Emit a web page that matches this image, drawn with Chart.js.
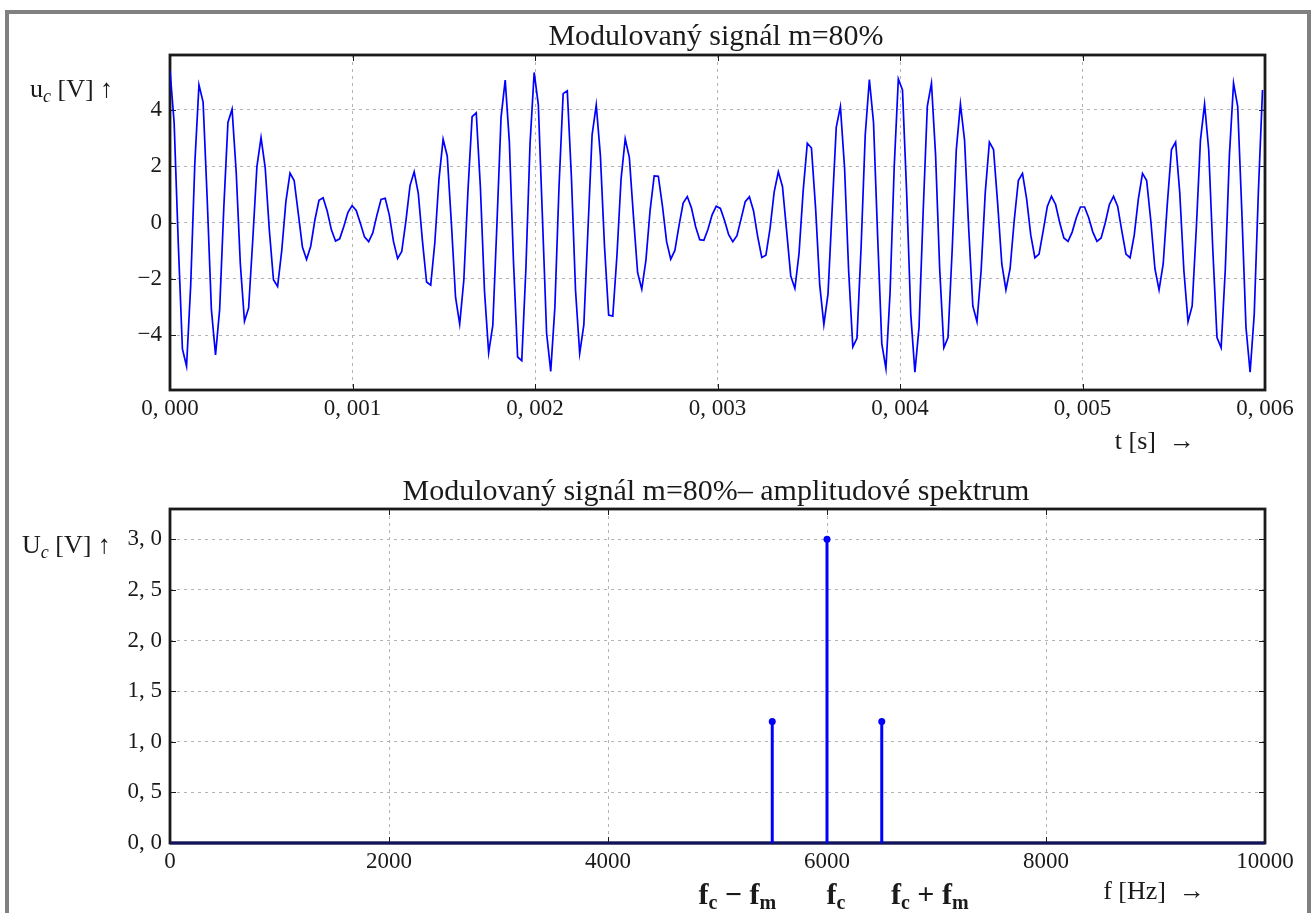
<!DOCTYPE html>
<html>
<head>
<meta charset="utf-8">
<title>Modulovaný signál m=80%</title>
<script src="https://cdn.jsdelivr.net/npm/chart.js@4.4.1/dist/chart.umd.min.js"></script>
<style>
  html, body { margin: 0; padding: 0; background: #fff; }
  body { width: 1313px; height: 913px; position: relative; overflow: hidden; }
  .frame { position: absolute; left: 5px; top: 10px; width: 1298px; height: 960px; border: 4px solid #808080; }
  canvas { position: absolute; left: 0; }
  #signalChart { top: 0; }
  #spectrumChart { top: 460px; }
</style>
</head>
<body>
<div class="frame"></div>
<canvas id="signalChart" width="1313" height="460"></canvas>
<canvas id="spectrumChart" width="1313" height="453"></canvas>
<script>
// AM signal u_c(t), one sample every 1/44100 s
const SAMPLE_RATE = 44100;
const signal = [
  5.40, 3.54, -0.74, -4.48, -5.10, -2.23, 2.10, 4.88, 4.27, 0.79,
  -3.08, -4.70, -3.08, 0.52, 3.55, 4.02, 1.78, -1.48, -3.50, -3.03,
  -0.61, 1.98, 3.01, 1.95, -0.26, -2.03, -2.27, -1.00, 0.74, 1.75,
  1.49, 0.32, -0.87, -1.31, -0.84, 0.08, 0.79, 0.88, 0.40, -0.26,
  -0.66, -0.58, -0.14, 0.36, 0.60, 0.43, -0.03, -0.51, -0.68, -0.37,
  0.26, 0.82, 0.86, 0.26, -0.67, -1.28, -1.03, 0.05, 1.31, 1.80,
  1.03, -0.65, -2.11, -2.22, -0.70, 1.55, 2.95, 2.35, -0.04, -2.65,
  -3.60, -2.05, 1.13, 3.75, 3.89, 1.26, -2.44, -4.62, -3.65, -0.05,
  3.74, 5.05, 2.87, -1.38, -4.77, -4.90, -1.64, 2.79, 5.32, 4.18,
  0.17, -3.92, -5.28, -3.01, 1.26, 4.57, 4.67, 1.61, -2.42, -4.64,
  -3.63, -0.24, 3.11, 4.17, 2.38, -0.86, -3.28, -3.32, -1.17, 1.55,
  2.97, 2.30, 0.20, -1.78, -2.36, -1.34, 0.41, 1.65, 1.64, 0.58,
  -0.68, -1.30, -0.99, -0.11, 0.69, 0.92, 0.52, -0.14, -0.61, -0.63,
  -0.24, 0.27, 0.58, 0.50, 0.07, -0.43, -0.68, -0.47, 0.13, 0.74,
  0.91, 0.42, -0.49, -1.24, -1.16, -0.21, 1.09, 1.80, 1.28, -0.29,
  -1.90, -2.34, -1.10, 1.12, 2.81, 2.64, 0.52, -2.21, -3.62, -2.54,
  0.46, 3.38, 4.11, 1.95, -1.74, -4.41, -4.11, -0.88, 3.11, 5.07,
  3.55, -0.50, -4.30, -5.18, -2.48, 1.97, 5.09, 4.70, 1.09, -3.25,
  -5.31, -3.71, 0.39, 4.12, 4.94, 2.39, -1.68, -4.44, -4.08, -1.00,
  2.57, 4.20, 2.92, -0.21, -2.96, -3.52, -1.71, 1.06, 2.85, 2.59,
  0.67, -1.47, -2.39, -1.64, 0.07, 1.49, 1.74, 0.84, -0.45, -1.25,
  -1.12, -0.30, 0.57, 0.93, 0.64, -0.01, -0.55, -0.67, -0.34, 0.17,
  0.55, 0.55, 0.17, -0.34, -0.67, -0.55, -0.01, 0.64, 0.93, 0.57,
  -0.30, -1.12, -1.25, -0.45, 0.84, 1.74, 1.49, 0.07, -1.64, -2.39,
  -1.47, 0.67, 2.59, 2.85, 1.06, -1.71, -3.52, -2.96, -0.21, 2.92,
  4.20, 2.57, -1.00, -4.08, -4.44, -1.68, 2.39, 4.94, 4.12, 0.39,
  -3.71, -5.31, -3.25, 1.09, 4.70
];
const timeTicks = [0, 0.001, 0.002, 0.003, 0.004, 0.005, 0.006];
const timeTickLabels = ['0, 000', '0, 001', '0, 002', '0, 003', '0, 004', '0, 005', '0, 006'];
const voltTicks = [-4, -2, 0, 2, 4];
const voltTickLabels = ['\u22124', '\u22122', '0', '2', '4'];

// amplitude spectrum: carrier and two side bands
const lineFreqs = [5500, 6000, 6500];
const lineAmps = [1.2, 3.0, 1.2];
const freqTicks = [0, 2000, 4000, 6000, 8000, 10000];
const freqTickLabels = ['0', '2000', '4000', '6000', '8000', '10000'];
const ampTicks = [0, 0.5, 1.0, 1.5, 2.0, 2.5, 3.0];
const ampTickLabels = ['0, 0', '0, 5', '1, 0', '1, 5', '2, 0', '2, 5', '3, 0'];

const SERIF = '"Liberation Serif", "Times New Roman", serif';
const INK = '#1a1a1a';
const BLUE = '#0000ff';

Chart.defaults.font.family = SERIF;
Chart.defaults.color = INK;

// write a run of text pieces (used for subscripts), aligned at x
function drawParts(ctx, parts, x, y, align) {
  let w = 0;
  parts.forEach(p => { ctx.font = p.font; w += ctx.measureText(p.text).width; });
  let cx = align === 'right' ? x - w : align === 'center' ? x - w / 2 : x;
  parts.forEach(p => {
    ctx.font = p.font;
    ctx.fillText(p.text, cx, y + (p.dy || 0));
    cx += ctx.measureText(p.text).width;
  });
}

// black box round the plot area plus small inward ticks on every side
const axesFrame = {
  id: 'axesFrame',
  beforeDatasetsDraw(chart) {
    const { ctx, chartArea: a, scales } = chart;
    ctx.save();
    ctx.strokeStyle = INK;
    ctx.lineWidth = 1;
    ctx.beginPath();
    scales.x.ticks.forEach(t => {
      const px = Math.round(scales.x.getPixelForValue(t.value)) + 0.5;
      ctx.moveTo(px, a.top); ctx.lineTo(px, a.top + 6);
      ctx.moveTo(px, a.bottom); ctx.lineTo(px, a.bottom - 6);
    });
    scales.y.ticks.forEach(t => {
      const py = Math.round(scales.y.getPixelForValue(t.value)) + 0.5;
      ctx.moveTo(a.left, py); ctx.lineTo(a.left + 6, py);
      ctx.moveTo(a.right, py); ctx.lineTo(a.right - 6, py);
    });
    ctx.stroke();
    ctx.lineWidth = 2.8;
    ctx.strokeRect(a.left, a.top, a.right - a.left, a.bottom - a.top);
    ctx.restore();
  }
};

// titles and axis captions
function textLayer(items) {
  return {
    id: 'textLayer',
    afterDraw(chart) {
      const ctx = chart.ctx;
      ctx.save();
      ctx.fillStyle = INK;
      ctx.textBaseline = 'alphabetic';
      ctx.textAlign = 'left';
      items(chart).forEach(it => drawParts(ctx, it.parts, it.x, it.y, it.align));
      ctx.restore();
    }
  };
}

const tickFont = { size: 23, family: SERIF, lineHeight: 1.2 };
const gridStyle = { color: '#b4b4b4', lineWidth: 1, drawTicks: false };
const gridDash = { display: false, dash: [3, 4] };

function fixedTicks(values) {
  return scale => { scale.ticks = values.map(v => ({ value: v })); };
}

// plot area is 170px from the left edge; x labels get a 40px strip below it
const Y_AXIS_WIDTH = 170;
const X_AXIS_HEIGHT = 40;

const titleFont = `30px ${SERIF}`;
const labelFont = `26px ${SERIF}`;
const subFont = `italic 18px ${SERIF}`;
const boldFont = `bold 30px ${SERIF}`;
const boldSubFont = `bold 20px ${SERIF}`;

// 1. modulated signal in time
new Chart(document.getElementById('signalChart'), {
  type: 'line',
  data: {
    datasets: [{
      data: signal.map((v, i) => ({ x: i / SAMPLE_RATE, y: v })),
      borderColor: BLUE,
      borderWidth: 1.7,
      pointRadius: 0,
      tension: 0,
      fill: false
    }]
  },
  options: {
    responsive: false,
    animation: false,
    events: [],
    layout: { padding: { left: 0, right: 48, top: 55, bottom: 70 - X_AXIS_HEIGHT } },
    plugins: { legend: { display: false }, tooltip: { enabled: false } },
    scales: {
      x: {
        type: 'linear', min: 0, max: 0.006,
        afterBuildTicks: fixedTicks(timeTicks),
        afterFit: s => { s.height = X_AXIS_HEIGHT; },
        grid: gridStyle, border: gridDash,
        ticks: { font: tickFont, padding: 5, maxRotation: 0, autoSkip: false, callback: (v, i) => timeTickLabels[i] }
      },
      y: {
        type: 'linear', min: -5.94, max: 5.94,
        afterBuildTicks: fixedTicks(voltTicks),
        afterFit: s => { s.width = Y_AXIS_WIDTH; },
        grid: gridStyle, border: gridDash,
        ticks: { font: tickFont, padding: 8, autoSkip: false, callback: (v, i) => voltTickLabels[i] }
      }
    }
  },
  plugins: [axesFrame, textLayer(chart => [
    { parts: [{ text: 'Modulovaný signál m=80%', font: titleFont }], x: 716, y: 45, align: 'center' },
    { parts: [{ text: 'u', font: labelFont }, { text: 'c', font: subFont, dy: 5 }, { text: ' [V] \u2191', font: labelFont }], x: 30, y: 97, align: 'left' },
    { parts: [{ text: 't [s]', font: labelFont }, { text: '  \u2192', font: labelFont }], x: 1195, y: 449, align: 'right' }
  ])]
});

// 2. amplitude spectrum
const stemSets = lineFreqs.map((f, i) => ({
  data: [{ x: f, y: 0 }, { x: f, y: lineAmps[i] }],
  borderColor: BLUE,
  backgroundColor: BLUE,
  borderWidth: 3,
  pointRadius: [0, 3.5],
  pointBorderWidth: 0,
  tension: 0,
  clip: false
}));

new Chart(document.getElementById('spectrumChart'), {
  type: 'line',
  data: {
    datasets: [
      ...stemSets,
      {
        data: [{ x: freqTicks[0], y: 0 }, { x: freqTicks[freqTicks.length - 1], y: 0 }],
        borderColor: '#12125e',
        borderWidth: 3,
        pointRadius: 0,
        clip: false
      }
    ]
  },
  options: {
    responsive: false,
    animation: false,
    events: [],
    layout: { padding: { left: 0, right: 48, top: 49, bottom: 70 - X_AXIS_HEIGHT } },
    plugins: { legend: { display: false }, tooltip: { enabled: false } },
    scales: {
      x: {
        type: 'linear', min: 0, max: 10000,
        afterBuildTicks: fixedTicks(freqTicks),
        afterFit: s => { s.height = X_AXIS_HEIGHT; },
        grid: gridStyle, border: gridDash,
        ticks: { font: tickFont, padding: 5, maxRotation: 0, autoSkip: false, callback: (v, i) => freqTickLabels[i] }
      },
      y: {
        type: 'linear', min: 0, max: 3.3,
        afterBuildTicks: fixedTicks(ampTicks),
        afterFit: s => { s.width = Y_AXIS_WIDTH; },
        grid: gridStyle, border: gridDash,
        ticks: { font: tickFont, padding: 8, autoSkip: false, callback: (v, i) => ampTickLabels[i] }
      }
    }
  },
  plugins: [axesFrame, textLayer(chart => {
    const xs = chart.scales.x;
    return [
      { parts: [{ text: 'Modulovaný signál m=80%\u2013 amplitudové spektrum', font: titleFont }], x: 716, y: 40, align: 'center' },
      { parts: [{ text: 'U', font: labelFont }, { text: 'c', font: subFont, dy: 5 }, { text: ' [V] \u2191', font: labelFont }], x: 22, y: 93, align: 'left' },
      { parts: [{ text: 'f [Hz]', font: labelFont }, { text: '  \u2192', font: labelFont }], x: 1205, y: 439, align: 'right' },
      { parts: [{ text: 'f', font: boldFont }, { text: 'c', font: boldSubFont, dy: 5 }, { text: ' \u2212 f', font: boldFont }, { text: 'm', font: boldSubFont, dy: 5 }], x: xs.getPixelForValue(lineFreqs[0]) - 35, y: 444, align: 'center' },
      { parts: [{ text: 'f', font: boldFont }, { text: 'c', font: boldSubFont, dy: 5 }], x: xs.getPixelForValue(lineFreqs[1]) + 9, y: 444, align: 'center' },
      { parts: [{ text: 'f', font: boldFont }, { text: 'c', font: boldSubFont, dy: 5 }, { text: ' + f', font: boldFont }, { text: 'm', font: boldSubFont, dy: 5 }], x: xs.getPixelForValue(lineFreqs[2]) + 48, y: 444, align: 'center' }
    ];
  })]
});
</script>
</body>
</html>
